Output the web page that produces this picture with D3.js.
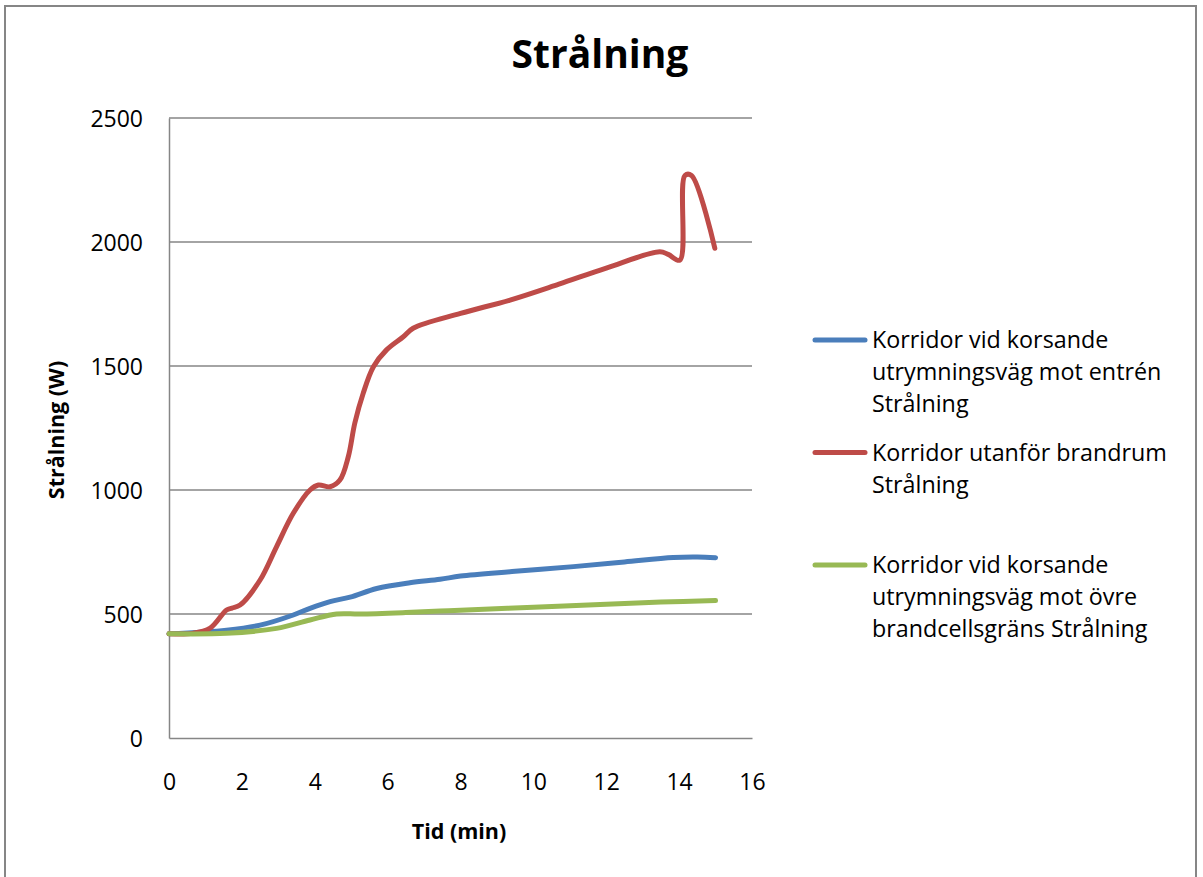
<!DOCTYPE html>
<html>
<head>
<meta charset="utf-8">
<script src="https://cdn.jsdelivr.net/npm/d3@7"></script>
<style>
  html, body { margin: 0; padding: 0; background: #fff; }
  svg { display: block; }
  text { font-family: "Open Sans", Lato, sans-serif; fill: #000; }
</style>
</head>
<body>
<svg id="chart" width="1203" height="877"></svg>
<script>
// Time (min) and radiation values per series
const entreTime = [0, 1.58, 2.5, 3.41, 3.87, 4.42, 4.97, 5.7, 6.61, 7.44, 8.0, 9.5, 11.1, 12.5, 13.84, 14.5, 15.0];
const entreVals = [420, 435, 455, 496, 523, 550, 568, 603, 626, 640, 653, 672, 691, 710, 728, 730, 727];

const brandrumTime = [0, 0.66, 1.13, 1.58, 1.73, 1.95, 2.5, 2.95, 3.41, 3.87, 4.1, 4.42, 4.69, 4.92, 5.1, 5.33, 5.61, 5.97, 6.43, 6.7, 8.0, 9.36, 10.7, 12.0, 13.47, 13.7, 14.02, 14.16, 14.34, 14.98];
const brandrumVals = [420, 422, 443, 516, 524, 536, 637, 771, 906, 1000, 1020, 1013, 1040, 1134, 1270, 1390, 1497, 1565, 1618, 1652, 1712, 1766, 1830, 1895, 1961, 1950, 1927, 2268, 2268, 1975];

const ovreTime = [0, 1.58, 2.95, 3.87, 4.6, 5.24, 6.5, 7.44, 8.0, 10.0, 12.0, 13.5, 15.0];
const ovreVals = [420, 422, 442, 476, 500, 500, 506, 512, 515, 527, 539, 548, 554];

const seriesNames = [
  ["Korridor vid korsande", "utrymningsväg mot entrén", "Strålning"],
  ["Korridor utanför brandrum", "Strålning"],
  ["Korridor vid korsande", "utrymningsväg mot övre", "brandcellsgräns Strålning"]
];
const seriesColors = ["#4a7ebb", "#be4b48", "#98b954"];

const xTicks = [0, 2, 4, 6, 8, 10, 12, 14, 16];
const yTicks = [0, 500, 1000, 1500, 2000, 2500];

const series = [
  { t: entreTime, v: entreVals },
  { t: brandrumTime, v: brandrumVals },
  { t: ovreTime, v: ovreVals }
];

const svg = d3.select("#chart");

// outer chart frame
svg.append("rect")
  .attr("x", 5).attr("y", 6).attr("width", 1191).attr("height", 880)
  .attr("fill", "#fff").attr("stroke", "#868686").attr("stroke-width", 2);

const plot = { left: 169, right: 752, top: 118, bottom: 738 };

const x = d3.scaleLinear().domain([0, 16]).range([plot.left, plot.right]);
const y = d3.scaleLinear().domain([0, 2500]).range([plot.bottom, plot.top]);

// horizontal gridlines
svg.append("g")
  .selectAll("line")
  .data(yTicks.filter(d => d > 0))
  .join("line")
  .attr("x1", plot.left).attr("x2", plot.right)
  .attr("y1", d => y(d)).attr("y2", d => y(d))
  .attr("stroke", "#868686").attr("stroke-width", 1.5);

// axes
const xAxis = svg.append("g")
  .attr("transform", `translate(0,${plot.bottom})`)
  .call(d3.axisBottom(x).tickValues(xTicks).tickFormat(d3.format("d")).tickSize(0).tickPadding(52));
const yAxis = svg.append("g")
  .attr("transform", `translate(${plot.left},0)`)
  .call(d3.axisLeft(y).tickValues(yTicks).tickFormat(d3.format("d")).tickSize(0).tickPadding(26));

[xAxis, yAxis].forEach(g => {
  g.select(".domain").attr("stroke", "#868686").attr("stroke-width", 1.5);
  g.selectAll("text")
    .attr("font-family", "'Open Sans', Lato, sans-serif")
    .attr("font-size", 23).attr("fill", "#000");
});
xAxis.selectAll("text").attr("dy", "0");
yAxis.selectAll("text").attr("dy", "0.357em");

// series lines
const line = d3.line()
  .x(d => x(d[0]))
  .y(d => y(d[1]))
  .curve(d3.curveCatmullRom.alpha(0.5));

series.forEach((s, i) => {
  svg.append("path")
    .datum(s.t.map((t, k) => [t, s.v[k]]))
    .attr("fill", "none")
    .attr("stroke", seriesColors[i])
    .attr("stroke-width", 5)
    .attr("stroke-linecap", "round")
    .attr("stroke-linejoin", "round")
    .attr("d", line);
});

// title
svg.append("text")
  .attr("x", 600).attr("y", 68)
  .attr("text-anchor", "middle")
  .attr("font-size", 39).attr("font-weight", "bold")
  .text("Strålning");

// axis titles
svg.append("text")
  .attr("x", 459).attr("y", 839)
  .attr("text-anchor", "middle")
  .attr("font-size", 21.5).attr("font-weight", "bold")
  .text("Tid (min)");

svg.append("text")
  .attr("transform", "translate(64,430) rotate(-90)")
  .attr("text-anchor", "middle")
  .attr("font-size", 21.5).attr("font-weight", "bold")
  .text("Strålning (W)");

// legend
const legendTop = [340, 452.5, 565];
const legend = svg.append("g");
seriesNames.forEach((lines, i) => {
  const g = legend.append("g").attr("transform", `translate(0,${legendTop[i]})`);
  g.append("line")
    .attr("x1", 815).attr("x2", 865)
    .attr("y1", 0).attr("y2", 0)
    .attr("stroke", seriesColors[i]).attr("stroke-width", 5)
    .attr("stroke-linecap", "round");
  lines.forEach((txt, k) => {
    g.append("text")
      .attr("x", 872).attr("y", k * 31.7)
      .attr("dy", "0.357em")
      .attr("font-size", 23.3)
      .text(txt);
  });
});
</script>
</body>
</html>
